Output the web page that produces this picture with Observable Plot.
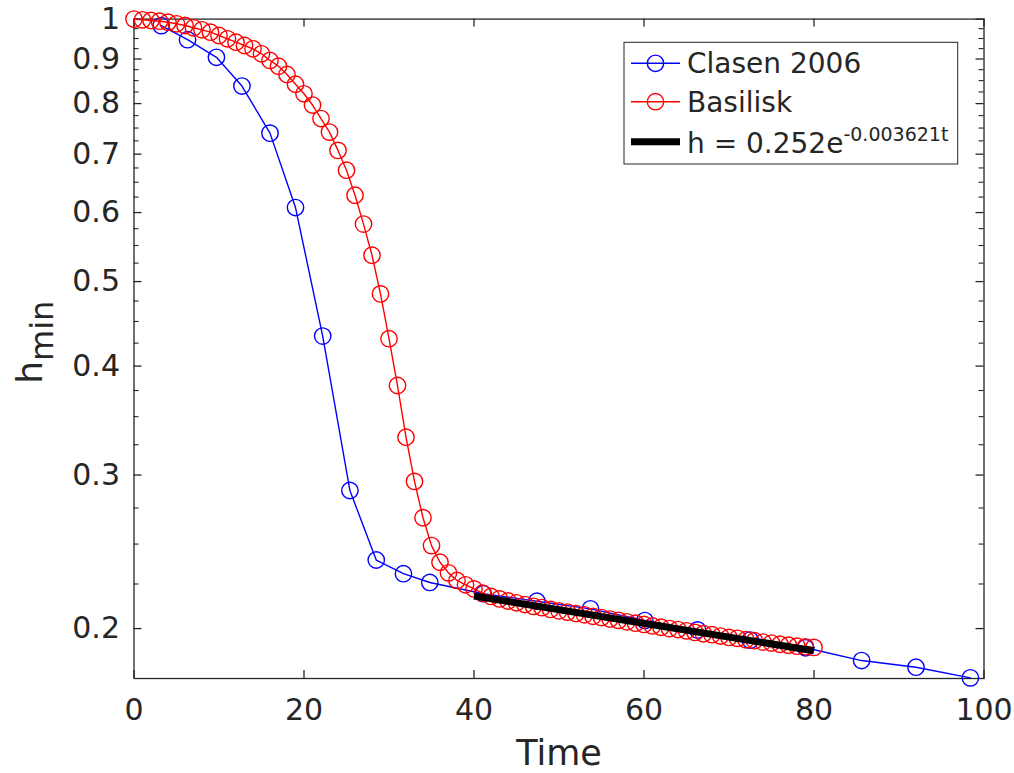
<!DOCTYPE html>
<html><head><meta charset="utf-8">
<script src="https://cdn.jsdelivr.net/npm/d3@7"></script>
<script src="https://cdn.jsdelivr.net/npm/@observablehq/plot@0.6"></script>
<style>
body{margin:0;background:#fff}
svg{font-family:"DejaVu Sans",sans-serif}
</style>
</head><body><div id="chart"></div>
<script>
// ---- data ----
const clasenT = [3.2, 6.3, 9.7, 12.7, 16.0, 19.0, 22.2, 25.4, 28.5, 31.7, 34.8, 41.1, 47.4, 53.7, 60.1, 66.3, 72.5, 79.0, 85.6, 92.0, 98.4];
const clasenH = [0.983, 0.947, 0.904, 0.838, 0.740, 0.608, 0.433, 0.288, 0.2397, 0.2312, 0.2259, 0.2193, 0.2150, 0.2107, 0.2043, 0.1993, 0.1940, 0.1901, 0.1838, 0.1806, 0.1756];

const basiliskT = [0,1,2,3,4,5,6,7,8,9,10,11,12,13,14,15,16,17,18,19,20,21,22,23,24,25,26,27,28,29,30,31,32,33,34,35,36,37,38,39,40,
  41,42,43,44,45,46,47,48,49,50,51,52,53,54,55,56,57,58,59,60,61,62,63,64,65,66,67,68,69,70,71,72,73,74,75,76,77,78,79,80];
const basiliskH = [1.0, 0.998, 0.9963, 0.9945, 0.9918, 0.9877, 0.9832, 0.9773, 0.9721, 0.9660, 0.9576, 0.9493, 0.9408, 0.9327, 0.9246, 0.9124, 0.8966,
  0.883, 0.864, 0.842, 0.821, 0.797, 0.769, 0.742, 0.707, 0.671, 0.628, 0.582, 0.536, 0.484, 0.430, 0.380, 0.3315, 0.295, 0.268, 0.249,
  0.2383, 0.2317, 0.2271, 0.2245, 0.2221,
  0.2196, 0.2177, 0.2163, 0.2151, 0.2141, 0.2131, 0.2121, 0.2114, 0.2104, 0.2096,
  0.2089, 0.2081, 0.2074, 0.2066, 0.2059, 0.2051, 0.2044, 0.2036, 0.2029, 0.2022,
  0.2014, 0.2007, 0.2000, 0.1995, 0.1988, 0.1980, 0.1973, 0.1968, 0.1961, 0.1954,
  0.1949, 0.1942, 0.1937, 0.1930, 0.1925, 0.1919, 0.1914, 0.1909, 0.1906, 0.1903];

const fitT = [40, 80];
const fitH = [0.2180, 0.1886];

const xTicks = [0, 20, 40, 60, 80, 100];
const yMajor = [1, 0.9, 0.8, 0.7, 0.6, 0.5, 0.4, 0.3, 0.2];
const yMinor = [0.225,0.25,0.275,0.325,0.35,0.375,0.425,0.45,0.475,0.525,0.55,0.575,0.625,0.65,0.675,0.725,0.75,0.775,0.825,0.85,0.875,0.925,0.95,0.975];

const seriesNames = ["Clasen 2006", "Basilisk"];
const fitLabel = ["h = 0.252e", "-0.003621t"];
const xLabel = "Time";
const yLabel = ["h", "min"];

// ---- build ----
const clasen = clasenT.map((t, i) => ({t, h: clasenH[i]}));
const basilisk = basiliskT.map((t, i) => ({t, h: basiliskH[i]}));
const fit = fitT.map((t, i) => ({t, h: fitH[i]}));

const W = 1014, H = 773, mL = 133.5, mR = 30.5, mT = 18.6, mB = 95;
const pw = W - mL - mR, ph = H - mT - mB;
const axisColor = "#262626";
const blue = "#0000ff", red = "#ff0000";
const R = 8.2;

const svg = Plot.plot({
  width: W, height: H,
  marginLeft: mL, marginRight: mR, marginTop: mT, marginBottom: mB,
  style: {fontFamily: "'DejaVu Sans', sans-serif", background: "white"},
  x: {domain: [0, 100], axis: null},
  y: {type: "log", domain: [0.1753, 1], axis: null},
  marks: [
    Plot.tickX(xTicks, {x: d => d, stroke: axisColor, strokeWidth: 1.3, insetTop: ph - 8}),
    Plot.tickX(xTicks, {x: d => d, stroke: axisColor, strokeWidth: 1.3, insetBottom: ph - 8}),
    Plot.tickY(yMajor, {y: d => d, stroke: axisColor, strokeWidth: 1.3, insetRight: pw - 8}),
    Plot.tickY(yMajor, {y: d => d, stroke: axisColor, strokeWidth: 1.3, insetLeft: pw - 8}),
    Plot.tickY(yMinor, {y: d => d, stroke: axisColor, strokeWidth: 1.1, insetRight: pw - 5}),
    Plot.tickY(yMinor, {y: d => d, stroke: axisColor, strokeWidth: 1.1, insetLeft: pw - 5}),
    Plot.frame({stroke: axisColor, strokeWidth: 1.3}),
    Plot.text(xTicks, {x: d => d, frameAnchor: "bottom", dy: 41, fontSize: 30, fill: axisColor, text: d => String(d)}),
    Plot.text(yMajor, {y: d => d, frameAnchor: "left", dx: -14, textAnchor: "end", fontSize: 30, fill: axisColor, text: d => String(d)}),
    Plot.text([xLabel], {frameAnchor: "bottom", dy: 86, fontSize: 35, fill: axisColor, text: d => d}),
    Plot.text([yLabel[0]], {frameAnchor: "left", dx: -104, dy: 35, rotate: -90, fontSize: 36, fill: axisColor, text: d => d}),
    Plot.line(clasen, {x: "t", y: "h", stroke: blue, strokeWidth: 1.4}),
    Plot.dot(clasen, {x: "t", y: "h", r: R, stroke: blue, strokeWidth: 1.4, fill: "none"}),
    Plot.line(basilisk, {x: "t", y: "h", stroke: red, strokeWidth: 1.4}),
    Plot.dot(basilisk, {x: "t", y: "h", r: R, stroke: red, strokeWidth: 1.4, fill: "none"}),
    Plot.line(fit, {x: "t", y: "h", stroke: "black", strokeWidth: 7, strokeLinecap: "butt"})
  ]
});

document.getElementById("chart").appendChild(svg);

const s = d3.select(svg);
s.selectAll("text").filter(function() { return this.textContent === yLabel[0] && /rotate/.test(this.getAttribute("transform") || ""); })
  .each(function() {
    const t = d3.select(this);
    t.text(null);
    t.append("tspan").text(yLabel[0]);
    t.append("tspan").attr("dy", "0.35em").attr("font-size", 32).text(yLabel[1]);
  });

// legend
const lg = s.append("g").attr("font-family", "'DejaVu Sans', sans-serif").attr("fill", axisColor).attr("text-anchor", "start");
lg.append("rect").attr("x", 624).attr("y", 42.3).attr("width", 333.7).attr("height", 121.7)
  .attr("fill", "white").attr("stroke", axisColor).attr("stroke-width", 1);
const rows = [{name: seriesNames[0], c: blue, y: 63.3}, {name: seriesNames[1], c: red, y: 101.7}];
rows.forEach(r => {
  lg.append("line").attr("x1", 631).attr("x2", 680).attr("y1", r.y).attr("y2", r.y).attr("stroke", r.c).attr("stroke-width", 1.4);
  lg.append("circle").attr("cx", 655.5).attr("cy", r.y).attr("r", R).attr("fill", "none").attr("stroke", r.c).attr("stroke-width", 1.4);
  lg.append("text").attr("x", 687).attr("y", r.y + 10).attr("font-size", 28).text(r.name);
});
lg.append("line").attr("x1", 631).attr("x2", 680).attr("y1", 141.7).attr("y2", 141.7).attr("stroke", "black").attr("stroke-width", 7);
const ft = lg.append("text").attr("x", 687).attr("y", 153.3).attr("font-size", 28);
ft.append("tspan").text(fitLabel[0]);
ft.append("tspan").attr("dy", -12).attr("font-size", 19).text(fitLabel[1]);
</script>
</body></html>
